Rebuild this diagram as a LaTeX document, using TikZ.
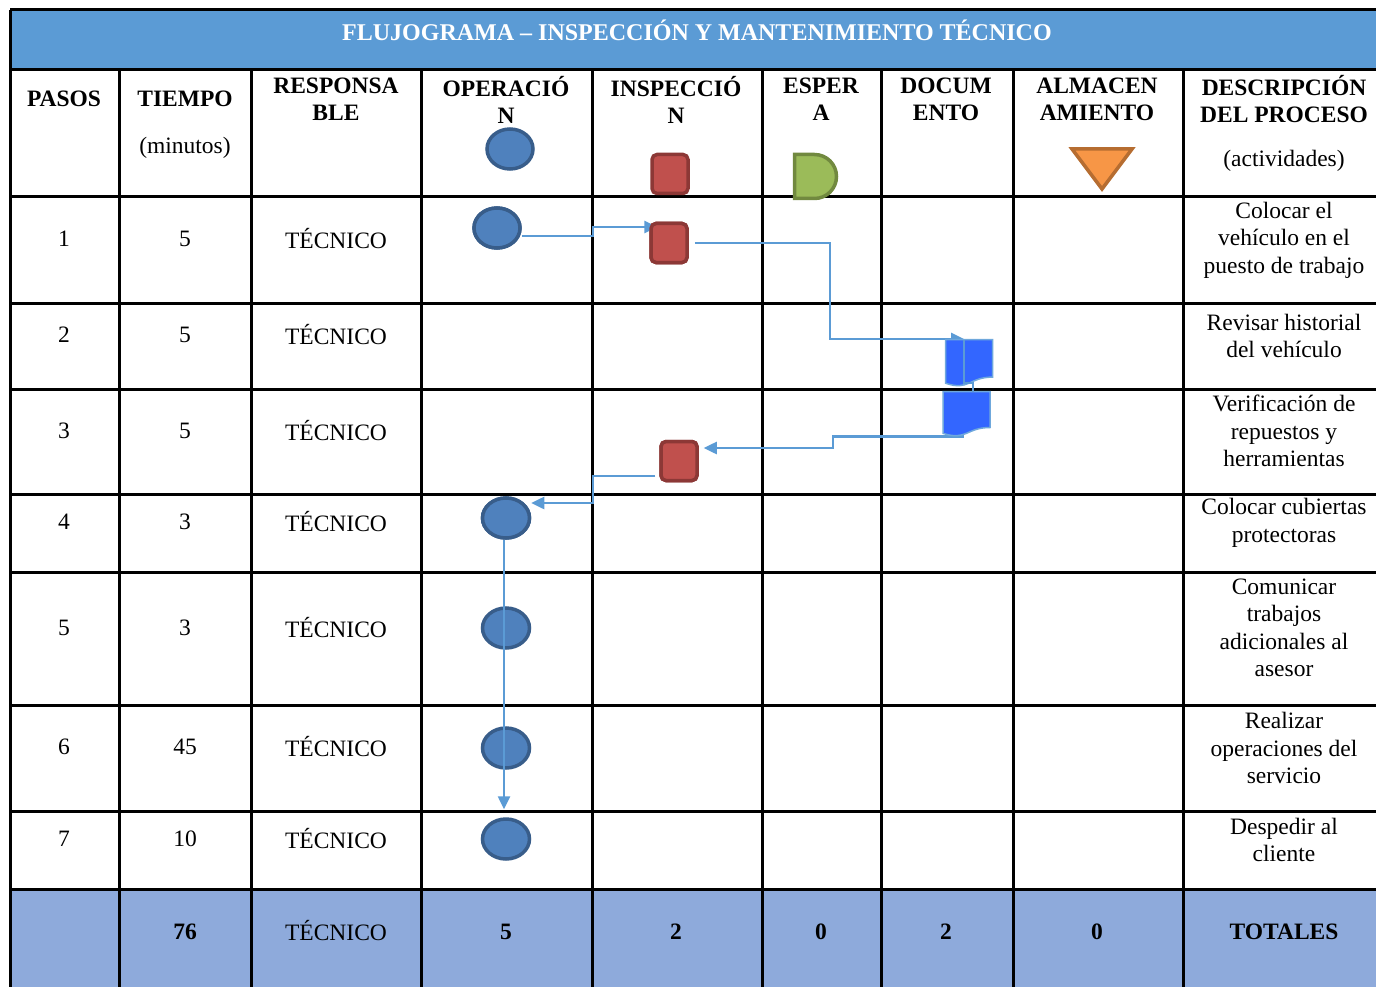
\documentclass[tikz,border=0pt]{standalone}
\usepackage{fontspec}
\setmainfont{Liberation Serif}
\usetikzlibrary{shapes.geometric,arrows.meta,calc}

\definecolor{bandblue}{HTML}{5B9BD5}
\definecolor{totalblue}{HTML}{8EAADB}
\definecolor{operfill}{HTML}{4F81BD}
\definecolor{operline}{HTML}{385D8A}
\definecolor{inspfill}{HTML}{C0504D}
\definecolor{inspline}{HTML}{8C3836}
\definecolor{delayfill}{HTML}{9BBB59}
\definecolor{delayline}{HTML}{71893F}
\definecolor{storefill}{HTML}{F79646}
\definecolor{storeline}{HTML}{B66D31}
\definecolor{docfill}{HTML}{3366FF}
\definecolor{docline}{HTML}{6FA8DC}

% document symbol drawn on an empty slot node
\newcommand{\docsym}[1]{%
  \filldraw[fill=docfill, draw=docline, line width=1.5pt]
    (#1.north west) -- (#1.north east) -- ($(#1.north east)!0.8!(#1.south east)$)
    .. controls ($(#1.north)!0.8!(#1.south)$) and ($(#1.north)!1.1!(#1.south)$) ..
    ($(#1.north west)!0.93!(#1.south west)$) -- cycle;}

\begin{document}
\begin{tikzpicture}[x=1pt, y=-1pt, >={Triangle[length=13pt,width=12pt]},
  cell/.style={font=\fontsize{23.5}{27.5}\selectfont, align=center, inner sep=0pt},
  head/.style={cell, font=\fontsize{23.5}{27}\selectfont\bfseries},
  title/.style={font=\fontsize{24}{28}\selectfont\bfseries, text=white, inner sep=0pt},
  tableline/.style={line width=3pt},
  oper/.style={ellipse, draw=operline, fill=operfill, line width=3.5pt,
    minimum width=46pt, minimum height=40pt, inner sep=0pt},
  insp/.style={rectangle, rounded corners=5pt, draw=inspline, fill=inspfill,
    line width=3.5pt, minimum width=36pt, minimum height=39pt, inner sep=0pt},
  slot/.style={inner sep=0pt, outer sep=0pt},
  flow/.style={draw=bandblue, line width=2.5pt, ->},
  link/.style={draw=bandblue, line width=2pt}]
\useasboundingbox (0,0) rectangle (1376,987);

% bands
\fill[bandblue] (10,10) rectangle (1376,70);
\fill[totalblue] (10,889) rectangle (1376,987);

% table rules
\draw[tableline]
  (10,10) -- (1376,10) (10,70) -- (1376,70) (10,197) -- (1376,197)
  (10,303) -- (1376,303) (10,389) -- (1376,389) (10,494) -- (1376,494)
  (10,572) -- (1376,572) (10,705) -- (1376,705) (10,811) -- (1376,811)
  (10,889) -- (1376,889)
  (10,10) -- (10,987) (119,70) -- (119,987) (251,70) -- (251,987)
  (421,70) -- (421,987) (592,70) -- (592,987) (762,70) -- (762,987)
  (881,70) -- (881,987) (1013,70) -- (1013,987) (1183,70) -- (1183,987);

% title and headers
\node[title] (titulo) at (697,30) {FLUJOGRAMA – INSPECCIÓN Y MANTENIMIENTO TÉCNICO};
\node[head] (hpasos) at (64,99) {PASOS};
\node[head] (htiempo) at (185,99) {TIEMPO};
\node[cell] (hmin) at (185,148) {(minutos)};
\node[head] (hresp) at (336,99.5) {RESPONSA\\BLE};
\node[head] (hoper) at (506,99.5) {OPERACIÓ\\N};
\node[head] (hinsp) at (676,99.5) {INSPECCIÓ\\N};
\node[head] (hesp) at (821,99.5) {ESPER\\A};
\node[head] (hdoc) at (946,99.5) {DOCUM\\ENTO};
\node[head] (halm) at (1097,99.5) {ALMACEN\\AMIENTO};
\node[head] (hdesc) at (1284,99.5) {DESCRIPCIÓN\\DEL PROCESO};
\node[cell] (hact) at (1284,161) {(actividades)};

% steps
\node[cell] (n1) at (64,239) {1};
\node[cell] (n2) at (64,335) {2};
\node[cell] (n3) at (64,431) {3};
\node[cell] (n4) at (64,522) {4};
\node[cell] (n5) at (64,628) {5};
\node[cell] (n6) at (64,747) {6};
\node[cell] (n7) at (64,839) {7};
\node[cell] (t1) at (185,239) {5};
\node[cell] (t2) at (185,335) {5};
\node[cell] (t3) at (185,431) {5};
\node[cell] (t4) at (185,522) {3};
\node[cell] (t5) at (185,628) {3};
\node[cell] (t6) at (185,747) {45};
\node[cell] (t7) at (185,839) {10};
\node[cell] (r1) at (336,239) {TÉCNICO};
\node[cell] (r2) at (336,335) {TÉCNICO};
\node[cell] (r3) at (336,431) {TÉCNICO};
\node[cell] (r4) at (336,522) {TÉCNICO};
\node[cell] (r5) at (336,628) {TÉCNICO};
\node[cell] (r6) at (336,747) {TÉCNICO};
\node[cell] (r7) at (336,839) {TÉCNICO};
\node[cell] (a1) at (1284,240) {Colocar el\\vehículo en el\\puesto de trabajo};
\node[cell] (a2) at (1284,336) {Revisar historial\\del vehículo};
\node[cell] (a3) at (1284,431) {Verificación de\\repuestos y\\herramientas};
\node[cell] (a4) at (1284,523) {Colocar cubiertas\\protectoras};
\node[cell] (a5) at (1284,628) {Comunicar\\trabajos\\adicionales al\\asesor};
\node[cell] (a6) at (1284,748) {Realizar\\operaciones del\\servicio};
\node[cell] (a7) at (1284,840) {Despedir al\\cliente};

% totals
\node[head] (tt) at (185,932) {76};
\node[cell] (tr) at (336,931) {TÉCNICO};
\node[head] (to) at (506,932) {5};
\node[head] (ti) at (676,932) {2};
\node[head] (te) at (821,932) {0};
\node[head] (td) at (946,932) {2};
\node[head] (ta) at (1097,932) {0};
\node[head] (tl) at (1284,932) {TOTALES};

% bend points
\coordinate (k1) at (593,227);
\coordinate (k2) at (830,339);
\coordinate (k3) at (833,448);
\coordinate (k4) at (593,503);
\coordinate (k6) at (973,383);

% symbol slots
\node[oper] (o0) at (510,149) {};
\node[insp] (i0) at (670,174) {};
\node[slot, minimum width=42pt, minimum height=44pt] (w0) at (815.5,176.5) {};
\node[slot, minimum width=60pt, minimum height=40pt] (s0) at (1102,169) {};
\node[oper] (o1) at (497,228) {};
\node[insp] (i1) at (669,243) {};
\node[slot, minimum width=47pt, minimum height=47pt] (d1) at (969,363) {};
\node[slot, minimum width=47pt, minimum height=45pt] (d2) at (966.5,414) {};
\node[insp] (i2) at (679,461) {};
\node[oper, minimum width=47pt] (o4) at (506,518) {};

% flow
\draw[flow, shorten >=-8pt] ([yshift=-8pt]o1.east) -| (k1) -- (k1 -| i1.north west);
\draw[flow, shorten >=5pt] ([xshift=6pt]i1.east) -| (k2) -- (k2 -| d1.north);
\draw[flow] ([xshift=-3pt]d2.south) -| (k3) -- ([xshift=5pt]k3 -| i2.east);
\draw[flow] ([xshift=-4pt,yshift=-15pt]i2.west) -| (k4) -- (k4 -| o4.east);

% symbols
\node[oper] at (o1) {};
\node[insp] at (i1) {};
\node[insp] at (i2) {};
\node[oper, minimum width=47pt] at (o4) {};
\node[oper, minimum width=47pt] (o5) at (506,628) {};
\node[oper, minimum width=47pt] (o6) at (506,748) {};
\node[oper, minimum width=47pt] (o7) at (506,839) {};
\filldraw[fill=delayfill, draw=delayline, line width=3.5pt]
  (w0.north west) -- ([xshift=-22pt]w0.north east) arc[start angle=90, end angle=-90, radius=22pt]
  -- (w0.south west) -- cycle;
\filldraw[fill=storefill, draw=storeline, line width=3.5pt, line join=miter]
  (s0.north west) -- (s0.north east) -- (s0.south) -- cycle;
\docsym{d1}
\docsym{d2}

\draw[link] ([xshift=-5pt]d1.north) |- (k6) -- (k6 |- d2.north);
\draw[flow] ([xshift=-2pt]o4.south) -- ([xshift=-2pt,yshift=8pt]o7.north);
\end{tikzpicture}
\end{document}
